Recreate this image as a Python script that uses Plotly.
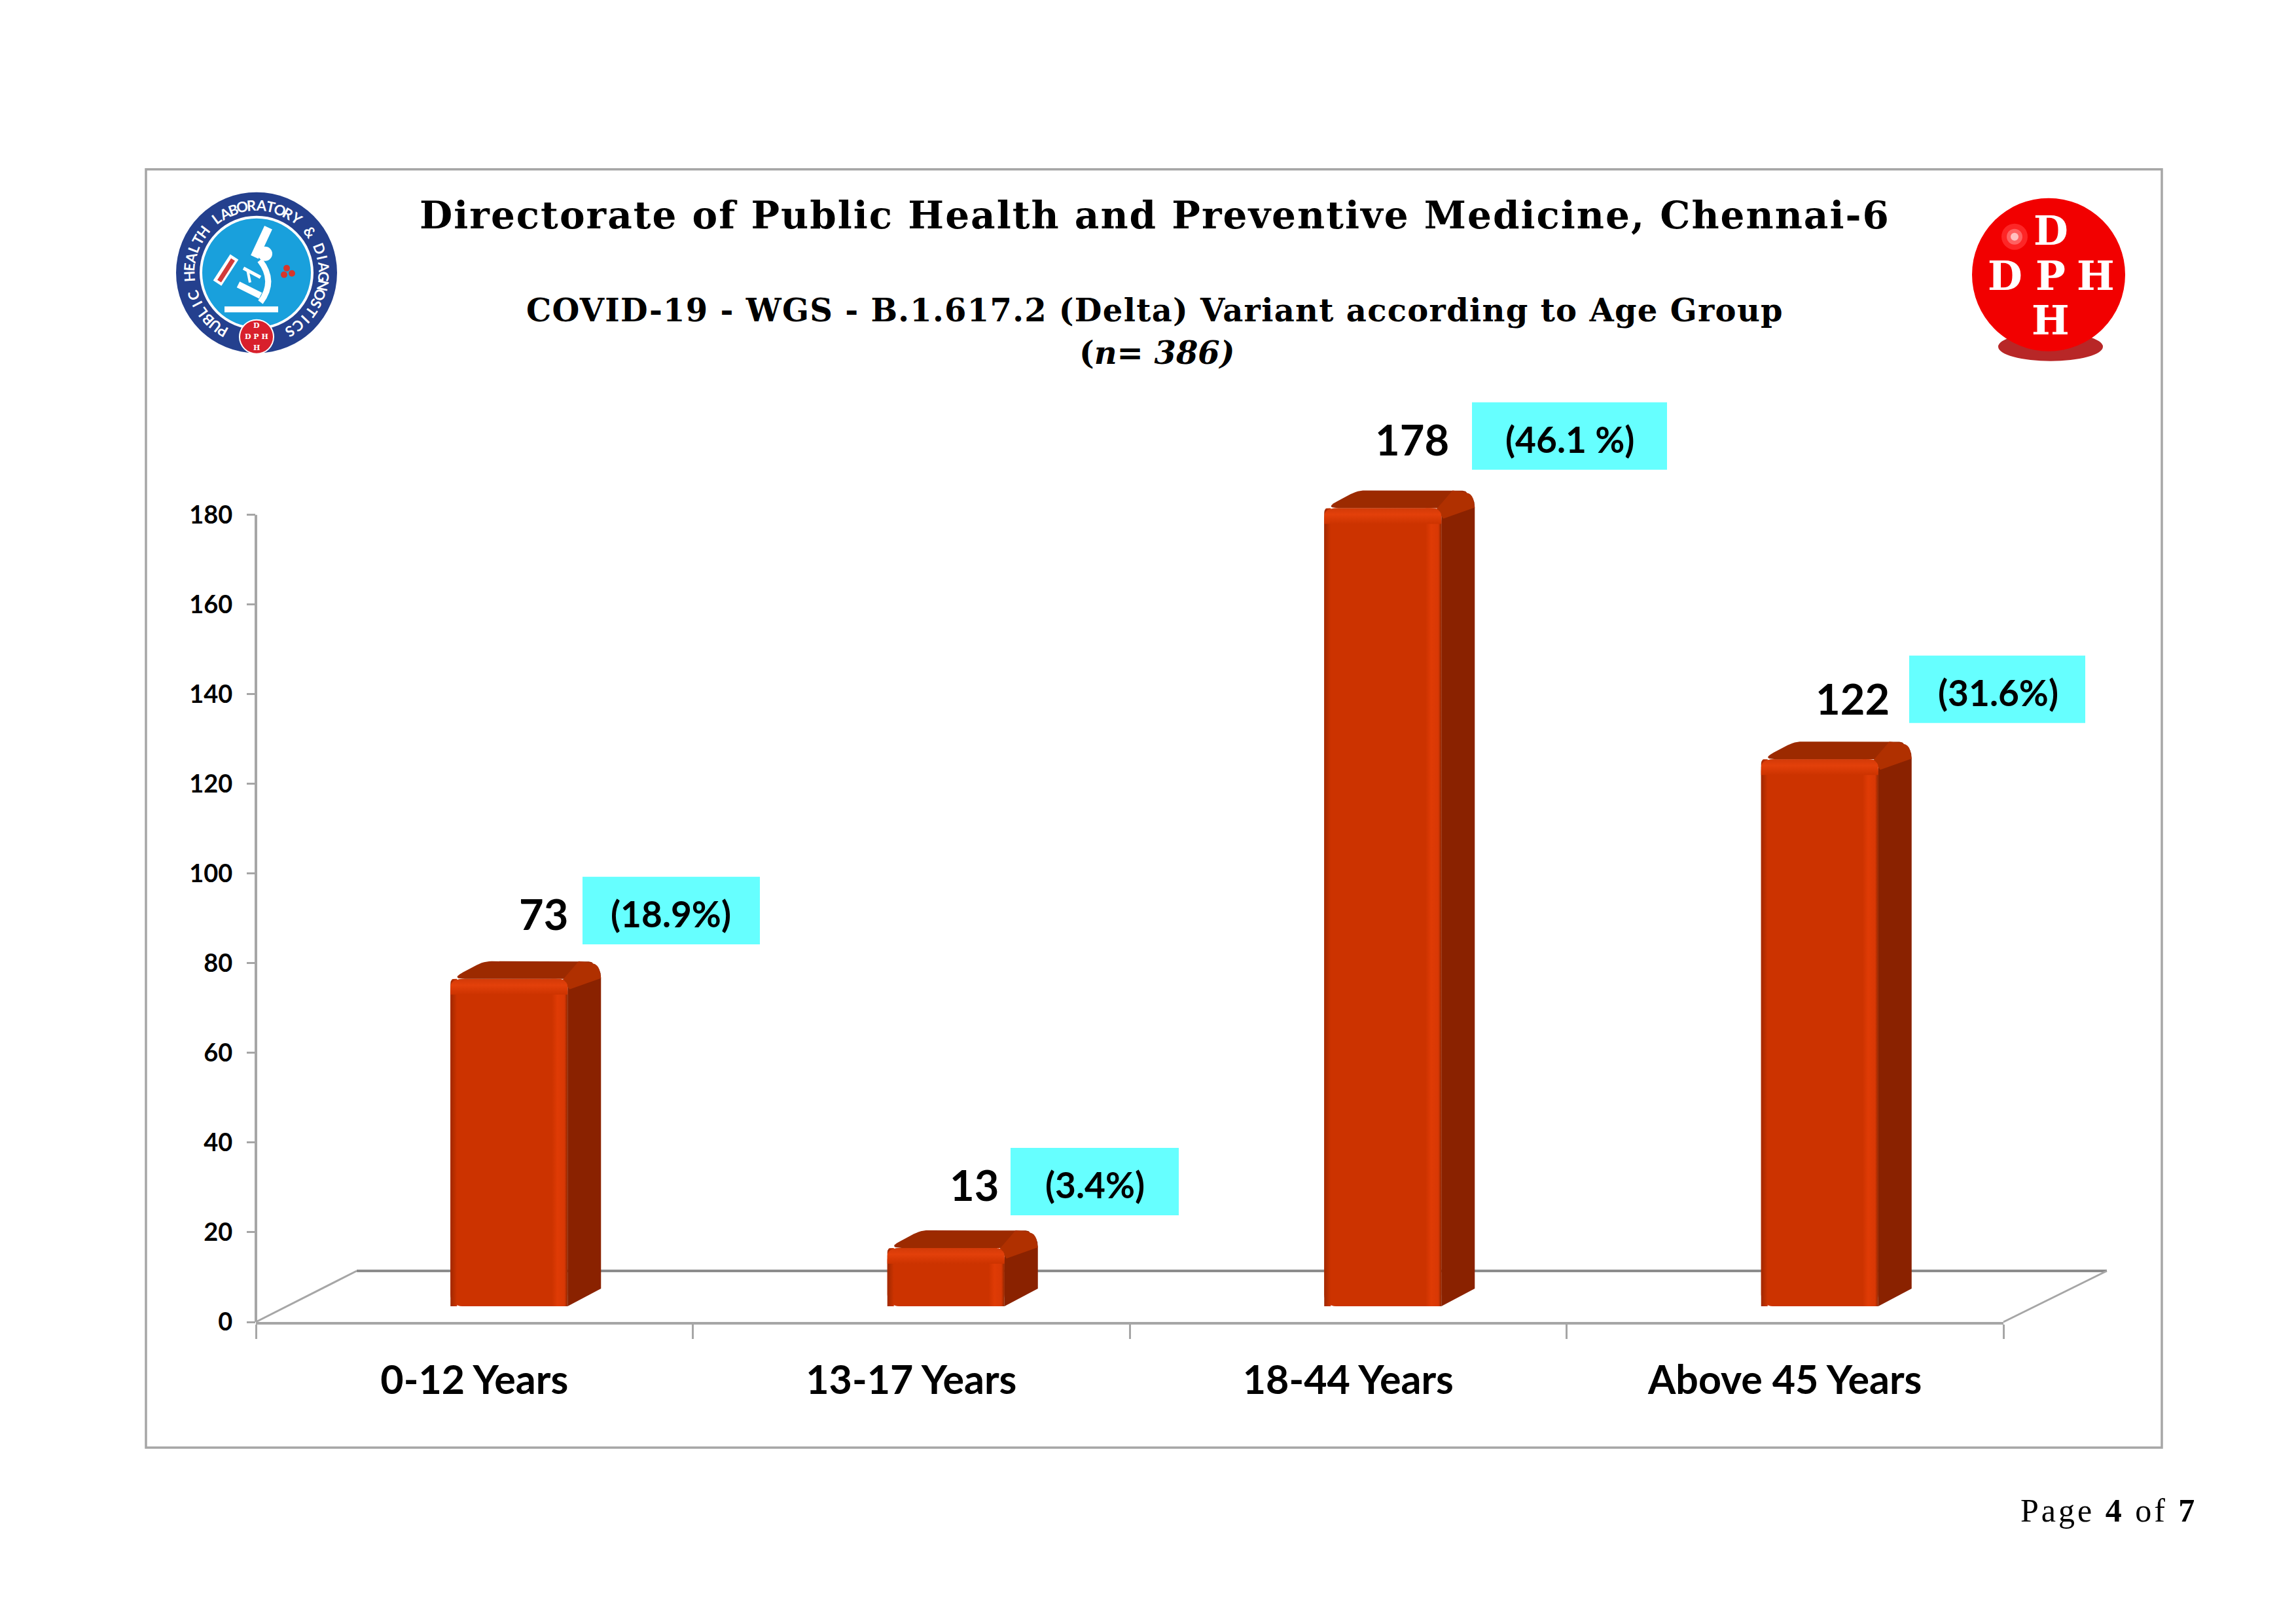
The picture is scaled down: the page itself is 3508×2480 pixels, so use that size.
import math
import plotly.graph_objects as go

# ---------- data ----------
categories = ["0-12 Years", "13-17 Years", "18-44 Years", "Above 45 Years"]
counts = [73, 13, 178, 122]
percent_labels = ["(18.9%)", "(3.4%)", "(46.1 %)", "(31.6%)"]
y_ticks = [0, 20, 40, 60, 80, 100, 120, 140, 160, 180]
title_text = "Directorate of Public Health and Preventive Medicine, Chennai-6"
subtitle_text = "COVID-19 - WGS - B.1.617.2 (Delta) Variant according to Age Group"
sample_text = "(<i>n= 386)</i>"
seal_text = "PUBLIC HEALTH LABORATORY & DIAGNOSTICS"

# ---------- page geometry (pixels) ----------
W, H = 3508, 2480
L, R, T, B = 391, 3061, 787, 2020
PX_X = (R - L) / 4.0
PX_Y = (B - T) / 180.0
Y_MAX = 195                                    # room above the axis for the tallest bar's top
PLOT_T = B - Y_MAX * PX_Y
def ax_dx(p): return p / PX_X
def ax_dy(p): return p / PX_Y
def px(x): return (x - L) / (R - L)
def py(y): return (B - y) / (B - PLOT_T)

BAR_W = ax_dx(179)
FRONT_DX, FRONT_DY = ax_dx(53), ax_dy(24)     # front plane of the bars vs axis plane
DEPTH_DX, DEPTH_DY = ax_dx(51), ax_dy(27)     # extrusion of the bars

FRONT, SIDE, TOPC = "#CC3300", "#8A2200", "#9C2A00"
GREY, GREY_D = "#A6A6A6", "#8C8C8C"
FONT = "Lato, Carlito, Calibri, sans-serif"
SERIF = "'DejaVu Serif', serif"


def rounded(pts, radii):
    """Polygon in axis units with rounded corners (radius in pixels)."""
    out_x, out_y = [], []
    n = len(pts)
    for i, (x, y) in enumerate(pts):
        r = radii[i]
        if r == 0:
            out_x.append(x); out_y.append(y); continue
        px0, py0 = pts[i - 1]
        px1, py1 = pts[(i + 1) % n]
        def toward(ax, ay):
            dx, dy = (ax - x) * PX_X, (ay - y) * PX_Y
            d = math.hypot(dx, dy)
            f = min(r / d, 0.5)
            return x + (ax - x) * f, y + (ay - y) * f
        a = toward(px0, py0)
        b = toward(px1, py1)
        for k in range(7):
            t = k / 6
            out_x.append((1 - t) ** 2 * a[0] + 2 * t * (1 - t) * x + t * t * b[0])
            out_y.append((1 - t) ** 2 * a[1] + 2 * t * (1 - t) * y + t * t * b[1])
    out_x.append(out_x[0]); out_y.append(out_y[0])
    return out_x, out_y


def face(pts, radii, color=None, grad=None):
    xs, ys = rounded(pts, radii)
    kw = dict(fillcolor=color) if grad is None else dict(fillgradient=grad)
    return go.Scatter(x=xs, y=ys, mode="lines", fill="toself", line=dict(width=0),
                      hoverinfo="skip", showlegend=False, cliponaxis=False, **kw)


centres = [i + 0.5 + FRONT_DX for i in range(len(counts))]
fig = go.Figure()

# front faces of the bars
fig.add_trace(go.Bar(x=centres, y=counts, base=[FRONT_DY] * len(counts), width=BAR_W,
                     marker=dict(color=FRONT, line=dict(width=0)), cliponaxis=False,
                     showlegend=False, hovertemplate="%{y}<extra></extra>"))

for c, v in zip(centres, counts):
    xl, xr = c - BAR_W / 2, c + BAR_W / 2
    y0, y1 = FRONT_DY, FRONT_DY + v
    # right side
    fig.add_trace(face([(xr, y0), (xr + DEPTH_DX, y0 + DEPTH_DY),
                        (xr + DEPTH_DX, y1 + DEPTH_DY), (xr, y1)], [0, 0, 26, 0], SIDE))
    # top
    fig.add_trace(face([(xl, y1), (xl + DEPTH_DX, y1 + DEPTH_DY),
                        (xr + DEPTH_DX, y1 + DEPTH_DY), (xr, y1)], [22, 12, 26, 0], TOPC))
    # lit diagonal between top and side
    fig.add_trace(face([(xr - ax_dx(8), y1 - ax_dy(2)), (xr + DEPTH_DX - ax_dx(34), y1 + DEPTH_DY),
                        (xr + DEPTH_DX - ax_dx(4), y1 + DEPTH_DY - ax_dy(4)),
                        (xr + DEPTH_DX, y1 + DEPTH_DY - ax_dy(26)), (xr + ax_dx(3), y1 - ax_dy(16))],
                       [0, 0, 12, 0, 0], "#B03000"))
    # shading of the front face
    fig.add_trace(face([(xr - ax_dx(24), y0), (xr, y0), (xr, y1), (xr - ax_dx(24), y1)],
                       [0, 0, 20, 0], grad=dict(type="horizontal",
                       colorscale=[[0, "#CC3300"], [0.35, "#DF3B05"], [0.8, "#D83805"], [1, "#8F2600"]])))
    fig.add_trace(face([(xl, y0), (xl + ax_dx(10), y0), (xl + ax_dx(10), y1), (xl, y1)],
                       [0, 0, 0, 8], grad=dict(type="horizontal",
                       colorscale=[[0, "#A02800"], [1, "#CC3300"]])))
    fig.add_trace(face([(xl, y1 - ax_dy(24)), (xr, y1 - ax_dy(24)), (xr, y1), (xl, y1)],
                       [0, 0, 20, 20], grad=dict(type="vertical",
                       colorscale=[[0, "#CC3300"], [0.6, "#E3400A"], [1, "#D23A08"]])))

shapes = []
def line(x0, y0, x1, y1, color, width, layer="below"):
    shapes.append(dict(type="line", xref="paper", yref="paper", x0=px(x0), y0=py(y0),
                       x1=px(x1), y1=py(y1), line=dict(color=color, width=width), layer=layer))
def rect(x0, y0, x1, y1, fill, layer="below", border=None, bw=0):
    shapes.append(dict(type="rect", xref="paper", yref="paper", x0=px(x0), y0=py(y0),
                       x1=px(x1), y1=py(y1), fillcolor=fill, layer=layer,
                       line=dict(color=border or "rgba(0,0,0,0)", width=bw)))
def circle(cx, cy, rx, fill, ry=None, opacity=1, border=None, bw=0):
    ry = ry or rx
    shapes.append(dict(type="circle", xref="paper", yref="paper", x0=px(cx - rx), y0=py(cy - ry),
                       x1=px(cx + rx), y1=py(cy + ry), fillcolor=fill, opacity=opacity, layer="above",
                       line=dict(color=border or "rgba(0,0,0,0)", width=bw)))

# page frame
rect(223, 259, 3303, 2212, "rgba(0,0,0,0)", border="#A6A6A6", bw=3.5)
# value axis line (the axis range runs on past 180, the line stops there)
line(L, B, L, T, GREY, 4)
# floor of the 3-D box
line(545, 1942, 3219, 1942, GREY_D, 4)
line(L, B, 545, 1942, GREY, 3)
line(R, B, 3219, 1942, GREY, 3)

# percentage boxes
boxes = [(890, 1340, 1161, 1443), (1544, 1754, 1801, 1857), (2249, 615, 2547, 718), (2917, 1002, 3186, 1105)]
for b in boxes:
    rect(b[0], b[1], b[2], b[3], "#66FFFF")

# seal (left logo)
SX, SY = 392, 417
circle(SX, SY, 123, "#24408E")
circle(SX, SY, 87, "#FFFFFF")
circle(SX, SY, 83, "#19A0DC")
line(358, 393, 332, 433, "#FFFFFF", 15, "above")
line(356, 397, 335, 430, "#D23A3A", 7, "above")
line(410, 348, 389, 393, "#FFFFFF", 13, "above")
circle(405, 388, 11, "#FFFFFF")
shapes.append(dict(type="path", xref="paper", yref="paper", layer="above", fillcolor="rgba(0,0,0,0)",
                   line=dict(color="#FFFFFF", width=9),
                   path=f"M {px(397)} {py(398)} Q {px(422)} {py(430)} {px(398)} {py(462)}"))
line(343, 473, 425, 473, "#FFFFFF", 9, "above")
line(372, 410, 398, 424, "#FFFFFF", 5, "above")
line(364, 435, 398, 452, "#FFFFFF", 10, "above")
line(378, 412, 382, 432, "#FFFFFF", 4, "above")
circle(438, 410, 5, "#D8352A"); circle(446, 418, 5, "#D8352A"); circle(434, 420, 5, "#D8352A")
circle(392, 515, 27, "#FFFFFF")
circle(392, 515, 25, "#D8202C")

# ball (right logo)
circle(3133, 530, 80, "#B01010", ry=22, opacity=0.9)
circle(3130, 420, 117, "#F20000")
circle(3078, 362, 20, "#FF3030", opacity=0.8)
circle(3078, 362, 12, "#FF7070", opacity=0.8)
circle(3078, 362, 6, "#FFC0C0")

anns = []
def text(x, y, s, size, font=FONT, color="#000000", angle=0, anchor="center"):
    anns.append(dict(xref="paper", yref="paper", x=px(x), y=py(y), text=s, showarrow=False,
                     xanchor=anchor, yanchor="middle", textangle=angle,
                     font=dict(family=font, size=size, color=color)))

text(1764, 329, f'<span style="letter-spacing:2px"><b>{title_text}</b></span>', 58, SERIF)
text(1764, 474, f'<span style="letter-spacing:1.3px"><b>{subtitle_text}</b></span>', 48, SERIF)
text(1767, 539, f"<b>{sample_text}</b>", 48, SERIF)

value_pos = [(830, 1396), (1488, 1810), (2157, 671), (2830, 1067)]
pct_pos = [(1025, 1396), (1673, 1810), (2398, 671), (3053, 1058)]
for v, p, vp, pp in zip(counts, percent_labels, value_pos, pct_pos):
    text(vp[0], vp[1], f"<b>{v}</b>", 65)
    text(pp[0], pp[1], f"<b>{p}</b>", 55)

text(3359, 2308, '<span style="letter-spacing:4px">Page <b>4</b> of <b>7</b></span>', 50,
     "'Liberation Serif', serif", anchor="right")

# curved seal lettering
n = len(seal_text)
for i, ch in enumerate(seal_text):
    if ch == " ":
        continue
    a = -150 + 300 * i / (n - 1)
    r = 103
    text(SX + r * math.sin(math.radians(a)), SY - r * math.cos(math.radians(a)), f"<b>{ch}</b>", 22,
         color="#FFFFFF", angle=a)
# small badge in the seal
text(392, 498, "<b>D</b>", 11, SERIF, "#FFFFFF")
text(392, 515, "<b>D P H</b>", 11, SERIF, "#FFFFFF")
text(392, 532, "<b>H</b>", 11, SERIF, "#FFFFFF")
# ball lettering
for s, x, y in [("D", 3133, 353), ("D", 3063, 422), ("P", 3133, 422), ("H", 3202, 422), ("H", 3133, 490)]:
    text(x, y, f"<b>{s}</b>", 61, SERIF, "#FFFFFF")

fig.update_layout(
    width=W, height=H, autosize=False,
    margin=dict(l=L, r=W - R, t=PLOT_T, b=H - B, pad=0),
    paper_bgcolor="#FFFFFF", plot_bgcolor="rgba(0,0,0,0)",
    showlegend=False, barcornerradius=18,
    shapes=shapes, annotations=anns,
    xaxis=dict(range=[0, 4], tickmode="array", tickvals=[i + 0.5 for i in range(4)], ticktext=categories,
               ticks="", ticklabelstandoff=33, showgrid=False, zeroline=False,
               showline=True, linecolor=GREY, linewidth=4,
               tickfont=dict(family=FONT, size=61, color="#000000", weight="bold"),
               minor=dict(tickmode="array", tickvals=[0, 1, 2, 3, 4], ticks="outside", ticklen=22,
                          tickwidth=3, tickcolor=GREY, showgrid=False)),
    yaxis=dict(range=[0, Y_MAX], tickmode="array", tickvals=y_ticks, ticks="outside", ticklen=13,
               tickwidth=3, tickcolor=GREY, ticklabelstandoff=14, showgrid=False, zeroline=False,
               showline=False,
               tickfont=dict(family=FONT, size=38, color="#000000", weight="bold")),
)

fig.write_html("out.html", config=dict(displayModeBar=False),
               post_script="document.body.style.margin='0';")
